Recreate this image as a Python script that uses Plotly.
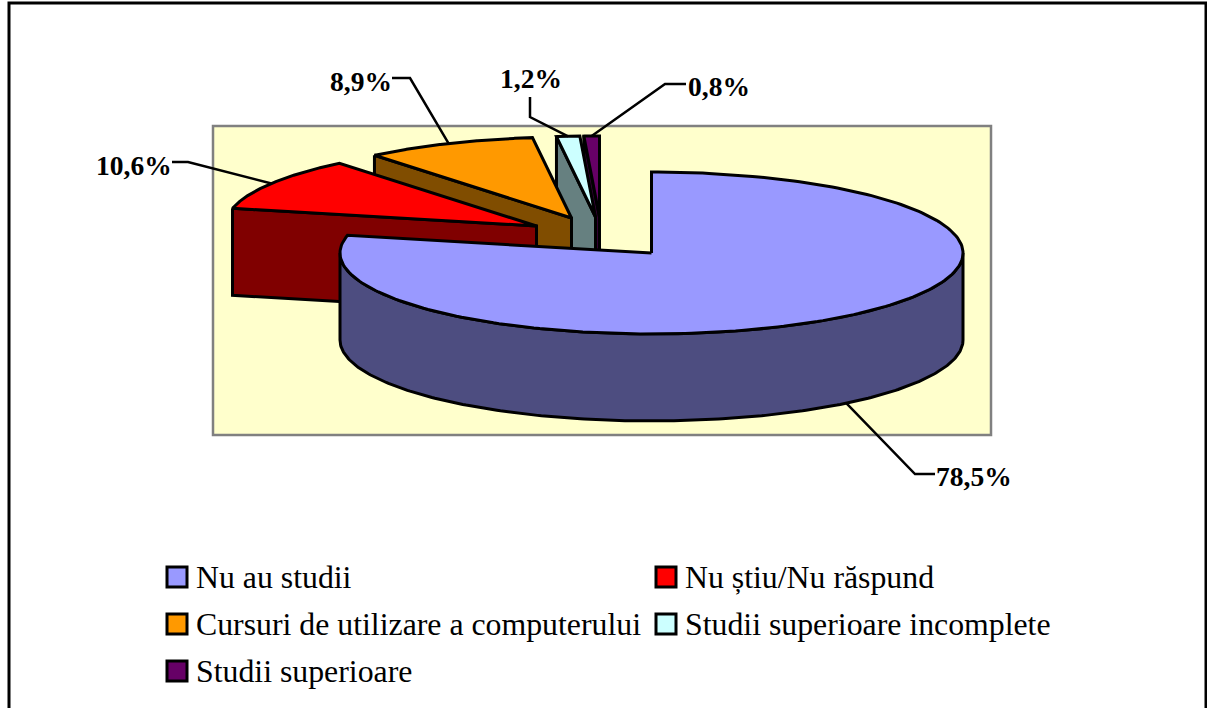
import numpy as np
import plotly.graph_objects as go

categories = ["Nu au studii", "Nu știu/Nu răspund", "Cursuri de utilizare a computerului",
              "Studii superioare incomplete", "Studii superioare"]
values = [78.5, 10.6, 8.9, 1.2, 0.8]
labels = ["78,5%", "10,6%", "8,9%", "1,2%", "0,8%"]
top_colors = ["#9999FF", "#FF0000", "#FF9900", "#CCFFFF", "#660066"]
side_colors = ["#4D4D80", "#800000", "#804D00", "#668080", "#330033"]

# Pie projection (pixels)
CX, CY, RX, RY, DEPTH = 651.5, 253, 311.5, 81, 87
explode_x = [0, -115, -80, -56, -52]
explode_y = [0, -27, -35, -36, -36]
label_xy = [(974, 476), (134, 165), (361, 81), (531, 78), (719, 86)]
elbows = [[(915, 474), (935, 474)], [(188, 162), (172, 162)], [(410, 78), (392, 78)],
          [(530, 117), (530, 97)], [(665, 84), (686, 84)]]
legend_cols = [167, 656]
legend_rows = [577, 624, 671]
legend_cells = [(0, 0), (1, 0), (0, 1), (1, 1), (0, 2)]

FONT = "Liberation Serif"
fig = go.Figure()


def rim(deg, tx, ty):
    a = np.radians(deg)
    return tx + RX * np.sin(a), ty - RY * np.cos(a)


def poly(xs, ys, fill):
    fig.add_trace(go.Scatter(x=list(xs), y=list(ys), mode="lines", fill="toself", fillcolor=fill,
                             line=dict(color="black", width=3), hoverinfo="skip", showlegend=False))


starts = np.concatenate([[0], np.cumsum(values)[:-1]]) * 3.6
ends = np.cumsum(values) * 3.6
order = [4, 3, 2, 1, 0]
for i in order:
    tx, ty = CX + explode_x[i], CY + explode_y[i]
    t = np.linspace(starts[i], ends[i], 240)
    rx_, ry_ = rim(t, tx, ty)
    if i == 0:
        s = np.linspace(90, 270, 240)
        sx, sy = rim(s, tx, ty)
        poly(np.r_[sx, sx[::-1], sx[0]], np.r_[sy, sy[::-1] + DEPTH, sy[0]], side_colors[i])
    else:
        sx, sy = rim(starts[i], tx, ty)
        poly([sx, tx, tx, sx, sx], [sy, ty, ty + DEPTH, sy + DEPTH, sy], side_colors[i])
    poly(np.r_[tx, rx_, tx], np.r_[ty, ry_, ty], top_colors[i])

for i in range(5):
    tx, ty = CX + explode_x[i], CY + explode_y[i]
    mx, my = rim((starts[i] + ends[i]) / 2, tx, ty)
    if i == 0:
        my += DEPTH
    ex, ey = zip(*elbows[i])
    fig.add_trace(go.Scatter(x=[mx, *ex], y=[my, *ey], mode="lines", line=dict(color="black", width=2.5),
                             hoverinfo="skip", showlegend=False))
    fig.add_annotation(x=label_xy[i][0], y=label_xy[i][1], text=f"<b>{labels[i]}</b>", showarrow=False,
                       font=dict(family=FONT, size=27.5, color="black"))

shapes = [
    dict(type="rect", xref="x", yref="y", x0=213, y0=126, x1=991, y1=435, layer="below",
         fillcolor="#FFFFCC", line=dict(color="#808080", width=2.5)),
    dict(type="rect", xref="x", yref="y", x0=9, y0=3, x1=1206, y1=720, layer="below",
         fillcolor="rgba(0,0,0,0)", line=dict(color="black", width=3)),
]
for name, col, (c, r) in zip(categories, top_colors, legend_cells):
    x0, yc = legend_cols[c], legend_rows[r]
    shapes.append(dict(type="rect", xref="x", yref="y", x0=x0, x1=x0 + 20, y0=yc - 10, y1=yc + 10,
                       fillcolor=col, line=dict(color="black", width=3)))
    fig.add_annotation(x=x0 + 27, y=yc, text=name, showarrow=False, xanchor="left",
                       font=dict(family=FONT, size=31.8, color="black"))

fig.update_layout(
    width=1207, height=708, margin=dict(l=0, r=0, t=0, b=0), paper_bgcolor="white", plot_bgcolor="white",
    xaxis=dict(range=[0, 1207], visible=False, fixedrange=True),
    yaxis=dict(range=[708, 0], visible=False, fixedrange=True),
    font=dict(family=FONT, color="black"),
    showlegend=False,
    shapes=shapes,
)
fig.write_html("out.html", config=dict(displayModeBar=False),
               post_script="document.body.style.margin='0';document.body.style.overflow='hidden';")
